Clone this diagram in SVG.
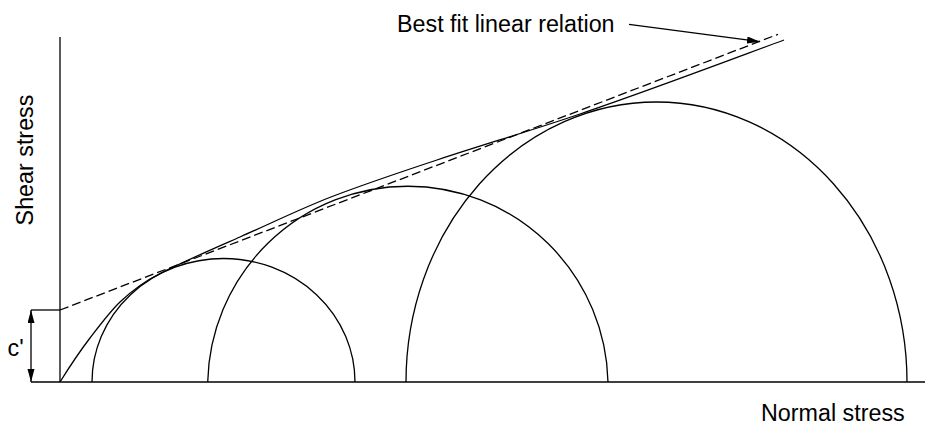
<svg xmlns="http://www.w3.org/2000/svg" width="927" height="426" viewBox="0 0 927 426">
<style>
.ln{fill:none;stroke:#000;stroke-width:1.3}
.dash{fill:none;stroke:#000;stroke-width:1.3;stroke-dasharray:9 4}
.lbl{font-family:"Liberation Sans",Arial,sans-serif;font-size:23.3px;fill:#000}
</style>
<defs>
<marker id="ah" markerWidth="14" markerHeight="8" refX="13" refY="3.5" orient="auto-start-reverse" markerUnits="userSpaceOnUse">
<path d="M0,0 L13,3.5 L0,7 z" fill="#000"/>
</marker>
</defs>
<rect width="927" height="426" fill="#fff"/>
<g id="axes">
<line class="ln" x1="60" y1="37" x2="60" y2="382"/>
<line class="ln" x1="31" y1="382" x2="925" y2="382"/>
<line class="ln" x1="31" y1="310" x2="60" y2="310"/>
</g>
<g id="circle-1"><path class="ln" d="M92,382 A131.5,123.5 0 0 1 355,382"/></g>
<g id="circle-2"><path class="ln" d="M207.7,382 A200.2,200.2 0 0 1 608,382"/></g>
<g id="circle-3"><path class="ln" d="M406,382 A250.5,280 0 0 1 907,382"/></g>
<g id="envelope">
<path class="ln" d="M60,382 C70,366 80,351 90,338 C100,325 110,311.5 120,302 C133.33,289.33 146.67,280.17 160,273.5 C186.67,260.17 213.33,248.73 240,237 C271.17,223.29 302.33,207.84 333.5,196 C368,182.89 402.5,171.39 437,160 C484.67,144.27 532.33,130.2 580,114 C648,90.88 716,65.16 784,40"/>
</g>
<g id="best-fit-line">
<line class="dash" x1="60" y1="310" x2="778" y2="34.3"/>
</g>
<g id="labels">
<text class="lbl" x="397" y="32">Best fit linear relation</text>
<text class="lbl" x="761" y="421">Normal stress</text>
<text class="lbl" transform="translate(33,160) rotate(-90)" text-anchor="middle">Shear stress</text>
<text class="lbl" x="7.5" y="356">c'</text>
</g>
<g id="connectors">
<line class="ln" x1="629" y1="24.3" x2="760" y2="41.7" marker-end="url(#ah)"/>
<line class="ln" x1="31" y1="310" x2="31" y2="382" marker-start="url(#ah)" marker-end="url(#ah)"/>
</g>
</svg>
